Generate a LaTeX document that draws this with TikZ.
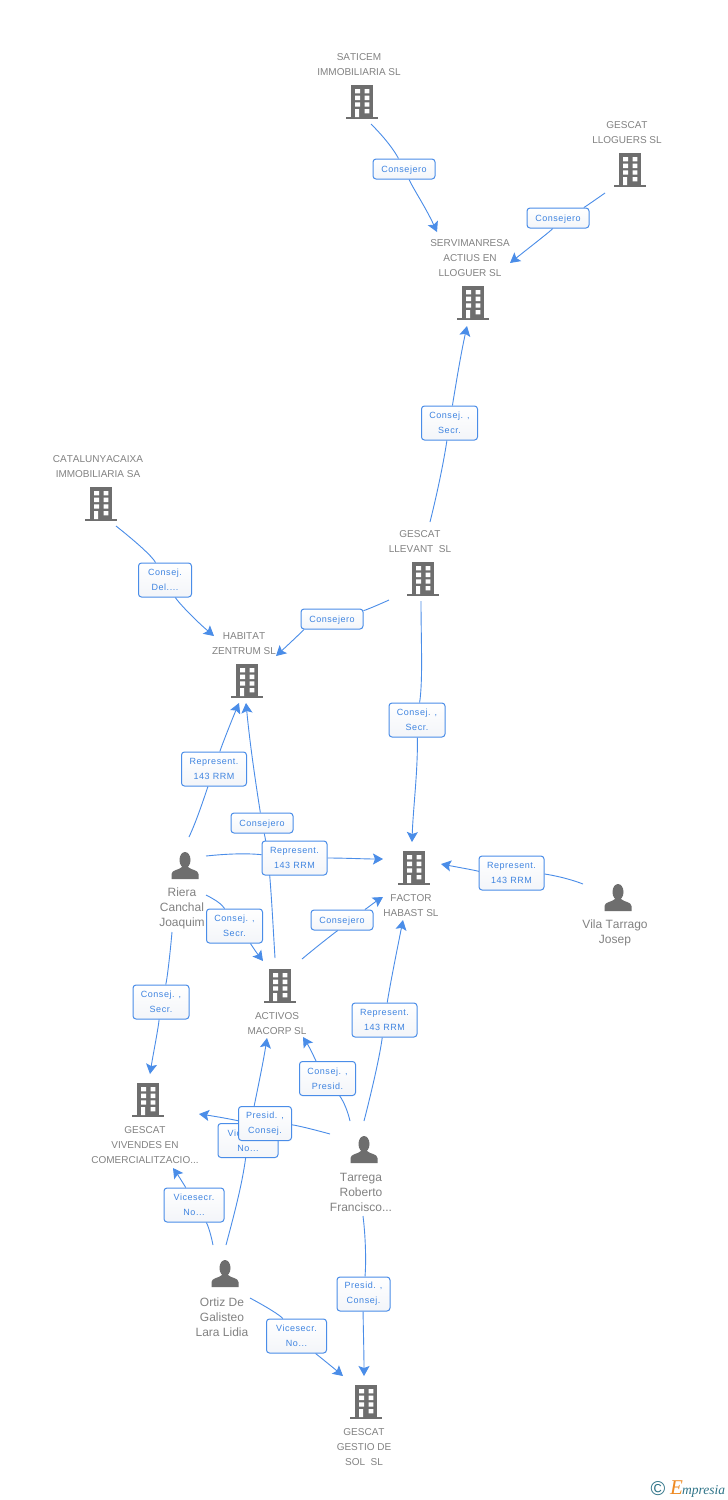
\documentclass[tikz,border=0pt]{standalone}
\usepackage{fontspec}
\setmainfont[Kerning=Off]{Liberation Sans}
\newfontfamily\lblfont[LetterSpace=6]{Liberation Sans}
\newfontfamily\logofont{Liberation Serif}
\usetikzlibrary{arrows.meta,backgrounds}
\definecolor{icongrey}{HTML}{6E6E6E}
\definecolor{textgrey}{HTML}{828282}
\definecolor{linkblue}{HTML}{4A8DE8}
\definecolor{lbltext}{HTML}{3F84E0}
\definecolor{logoteal}{HTML}{2F7488}
\definecolor{logoorange}{HTML}{EE8A22}
\definecolor{lblshade}{HTML}{F3F5F9}
\tikzset{
  building/.style={minimum width=36pt,minimum height=38pt,inner sep=0pt,
    path picture={\begin{scope}[shift={(path picture bounding box.center)}]
      \fill[icongrey] (-11,-17) rectangle (11,15);
      \fill[icongrey] (-16,15) rectangle (16,17);
      \fill[white] (-7,-13) rectangle (-2,-8.7) (2.7,-13) rectangle (7.3,-8.7);
      \fill[white] (-7,-6.3) rectangle (-2,-2) (2.7,-6.3) rectangle (7.3,-2);
      \fill[white] (-7,0.3) rectangle (-2,4.7) (2.7,0.3) rectangle (7.3,4.7);
      \fill[white] (-7,7) rectangle (-3,15) (2.7,7) rectangle (7.3,11.3);
    \end{scope}}},
  person/.style={minimum width=30pt,minimum height=32pt,inner sep=0pt,
    path picture={\begin{scope}[shift={(path picture bounding box.center)}]
      \fill[icongrey] (0,-6) ellipse [x radius=5.5,y radius=8];
      \fill[icongrey] (-13.5,13) -- (-13.5,8) .. controls (-13.5,4) and (-6,4) .. (-3,1) -- (3,1)
        .. controls (6,4) and (13.5,4) .. (13.5,8) -- (13.5,13) -- cycle;
    \end{scope}}},
  cotext/.style={align=center,inner sep=0pt,yshift=-0.8pt,text=textgrey,font=\fontsize{10}{15}\selectfont},
  petext/.style={align=center,inner sep=0pt,yshift=-0.8pt,text=textgrey,font=\fontsize{12}{15}\selectfont},
  lbl/.style={draw=linkblue,line width=1pt,rounded corners=3pt,top color=white,bottom color=lblshade,
    align=center,inner sep=0pt,text=lbltext,font=\lblfont\fontsize{9}{15}\selectfont,
    execute at begin node={\rule{0pt}{8.6pt}}},
  lblone/.style={lbl,minimum width=62pt,minimum height=20pt},
  lblsecr/.style={lbl,minimum width=56pt,minimum height=34pt},
  lblrep/.style={lbl,minimum width=65pt,minimum height=34pt},
  lblvice/.style={lbl,minimum width=60pt,minimum height=34pt},
  lblpres/.style={lbl,minimum width=53pt,minimum height=34pt},
  conn/.style={draw=linkblue,line width=0.9pt},
  arr/.style={conn,-{Stealth[length=10pt,width=11pt,inset=2pt]}}
}
\begin{document}
\begin{tikzpicture}[x=1pt,y=-1pt]
\useasboundingbox (0,0) rectangle (728,1500);
% icons
\node[building] (saticem) at (362,102) {};
\node[building] (lloguers) at (630,170) {};
\node[building] (servi) at (473,303) {};
\node[building] (catal) at (101,504) {};
\node[building] (llevant) at (423,579) {};
\node[building] (habitat) at (247,681) {};
\node[building] (factor) at (414,868) {};
\node[building] (activos) at (280,986) {};
\node[building] (vivendes) at (148,1100) {};
\node[building] (gestio) at (366,1402) {};
\node[person] (vila) at (618,898) {};
\node[person] (riera) at (185,866) {};
\node[person] (tarrega) at (364,1150) {};
\node[person] (ortiz) at (225,1274) {};
% names
\node[cotext] (tsaticem) at (359,63.5) {SATICEM\\IMMOBILIARIA SL};
\node[cotext] (tlloguers) at (627,131.5) {GESCAT\\LLOGUERS SL};
\node[cotext] (tservi) at (470,257) {SERVIMANRESA\\ACTIUS EN\\LLOGUER SL};
\node[cotext] (tcatal) at (98,465.5) {CATALUNYACAIXA\\IMMOBILIARIA SA};
\node[cotext] (tllevant) at (420,540.5) {GESCAT\\LLEVANT\ \ SL};
\node[cotext] (thabitat) at (244,642.5) {HABITAT\\ZENTRUM SL};
\node[cotext] (tfactor) at (411,904.5) {FACTOR\\HABAST SL};
\node[cotext] (tactivos) at (277,1022.5) {ACTIVOS\\MACORP SL};
\node[cotext] (tvivendes) at (145,1144) {GESCAT\\VIVENDES EN\\COMERCIALITZACIO...};
\node[cotext] (tgestio) at (364,1446) {GESCAT\\GESTIO DE\\SOL\ \ SL};
\node[petext] (tvila) at (615,932.5) {Vila Tarrago\\Josep};
\node[petext] (triera) at (182,908) {Riera\\Canchal\\Joaquim};
\node[petext] (ttarrega) at (361,1192) {Tarrega\\Roberto\\Francisco...};
\node[petext] (tortiz) at (222,1316) {Ortiz De\\Galisteo\\Lara Lidia};
% connector labels
\node[lblone] (l1) at (404,169) {Consejero};
\node[lblone] (l2) at (558,218) {Consejero};
\node[lblsecr] (l3) at (449.5,423) {Consej. ,\\Secr.};
\node[lblpres] (l4) at (165,580) {Consej.\\Del....};
\node[lblone] (l5) at (332,619) {Consejero};
\node[lblsecr] (l6) at (417,720) {Consej. ,\\Secr.};
\node[lblrep] (l7) at (214,769) {Represent.\\143 RRM};
\node[lblone] (l8) at (262,823) {Consejero};
\node[lblrep] (l9) at (294.5,858) {Represent.\\143 RRM};
\node[lblrep] (l10) at (511.5,873) {Represent.\\143 RRM};
\node[lblsecr] (l11) at (234.5,926) {Consej. ,\\Secr.};
\node[lblone] (l12) at (342,920) {Consejero};
\node[lblsecr] (l13) at (161,1002) {Consej. ,\\Secr.};
\node[lblrep] (l14) at (384.5,1020) {Represent.\\143 RRM};
\node[lblsecr] (l15) at (327.5,1078.5) {Consej. ,\\Presid.};
\node[lblvice] (l16) at (248,1140.5) {Vicesecr.\\No...};
\node[lblpres] (l17) at (265,1123.5) {Presid. ,\\Consej.};
\node[lblvice] (l18) at (194,1205) {Vicesecr.\\No...};
\node[lblpres] (l19) at (363.5,1294) {Presid. ,\\Consej.};
\node[lblvice] (l20) at (296.5,1336) {Vicesecr.\\No...};
% free ends of connectors
\coordinate (s1) at (371,124);      \coordinate (e1) at (437,232);
\coordinate (s2) at (605,193);      \coordinate (e2) at (510,263);
\coordinate (s3) at (430,522);      \coordinate (e3) at (467,326);
\coordinate (s4) at (116,526);      \coordinate (e4) at (214,636);
\coordinate (s5) at (389,600);      \coordinate (e5) at (276,656);
\coordinate (s6) at (421,601);      \coordinate (e6) at (412,842);
\coordinate (s7) at (189,837);      \coordinate (e7) at (239,703);
\coordinate (s8) at (275,958);      \coordinate (e8) at (246,703);
\coordinate (s9) at (206,856);      \coordinate (e9) at (383,859);
\coordinate (s10) at (583,884);     \coordinate (e10) at (441,864);
\coordinate (s11) at (206,895);     \coordinate (e11) at (263,961);
\coordinate (s12) at (302,959);     \coordinate (e12) at (383,897);
\coordinate (s13) at (172,932);     \coordinate (e13) at (150,1074);
\coordinate (s14) at (364,1121);    \coordinate (e14) at (403,920);
\coordinate (s15) at (350,1121);    \coordinate (e15) at (303,1037);
\coordinate (s16) at (226,1245);    \coordinate (e16) at (267,1038);
\coordinate (s17) at (330,1134);    \coordinate (e17) at (199,1114);
\coordinate (s18) at (213,1245);    \coordinate (e18) at (173,1168);
\coordinate (s19) at (363,1216);    \coordinate (e19) at (364,1376);
\coordinate (s20) at (250,1298);    \coordinate (e20) at (343,1376);
\begin{scope}[on background layer]
\fill[white] (0,0) rectangle (728,1500);
\draw[conn] (s1) .. controls (385,138) and (394,150) .. (l1);
\draw[arr] (l1) .. controls (414,190) and (426,208) .. (e1);
\draw[conn] (s2) .. controls (595,200) and (585,207) .. (l2);
\draw[arr] (l2) .. controls (552,230) and (530,247) .. (e2);
\draw[conn] (s3) .. controls (438,490) and (444,460) .. (l3);
\draw[arr] (l3) .. controls (455,390) and (460,358) .. (e3);
\draw[conn] (s4) .. controls (135,541) and (152,556) .. (l4);
\draw[arr] (l4) .. controls (178,602) and (195,620) .. (e4);
\draw[conn] (s5) .. controls (378,605) and (366,610) .. (l5);
\draw[arr] (l5) .. controls (305,629) and (290,643) .. (e5);
\draw[conn] (s6) .. controls (421,640) and (423,680) .. (l6);
\draw[arr] (l6) .. controls (418,770) and (413,810) .. (e6);
\draw[conn] (s7) .. controls (197,820) and (205,795) .. (l7);
\draw[arr] (l7) .. controls (222,745) and (231,722) .. (e7);
\draw[conn] (s8) .. controls (272,910) and (270,860) .. (l8);
\draw[arr] (l8) .. controls (256,785) and (250,745) .. (e8);
\draw[conn] (s9) .. controls (225,854) and (245,853) .. (l9);
\draw[arr] (l9) .. controls (345,858) and (365,859) .. (e9);
\draw[conn] (s10) .. controls (565,877) and (545,874) .. (l10);
\draw[arr] (l10) .. controls (485,872) and (462,868) .. (e10);
\draw[conn] (s11) .. controls (214,899) and (222,904) .. (l11);
\draw[arr] (l11) .. controls (250,943) and (256,952) .. (e11);
\draw[conn] (s12) .. controls (315,948) and (338,930) .. (l12);
\draw[arr] (l12) .. controls (366,909) and (375,902) .. (e12);
\draw[conn] (s13) .. controls (170,955) and (167,980) .. (l13);
\draw[arr] (l13) .. controls (158,1030) and (153,1055) .. (e13);
\draw[conn] (s14) .. controls (372,1090) and (380,1055) .. (l14);
\draw[arr] (l14) .. controls (390,985) and (397,950) .. (e14);
\draw[conn] (s15) .. controls (348,1112) and (344,1102) .. (l15);
\draw[arr] (l15) .. controls (316,1061) and (310,1048) .. (e15);
\draw[conn] (s16) .. controls (234,1215) and (242,1185) .. (l16);
\draw[arr] (l16) .. controls (254,1105) and (262,1070) .. (e16);
\draw[conn] (s17) .. controls (312,1129) and (295,1125) .. (l17);
\draw[arr] (l17) .. controls (240,1121) and (220,1117) .. (e17);
\draw[conn] (s18) .. controls (211,1235) and (208,1225) .. (l18);
\draw[arr] (l18) .. controls (186,1188) and (180,1178) .. (e18);
\draw[conn] (s19) .. controls (366,1240) and (366,1265) .. (l19);
\draw[arr] (l19) .. controls (363,1320) and (364,1350) .. (e19);
\draw[conn] (s20) .. controls (265,1306) and (280,1315) .. (l20);
\draw[arr] (l20) .. controls (315,1353) and (330,1365) .. (e20);
\end{scope}
% logo
\node[inner sep=0pt,text=logoteal,font=\fontsize{20}{20}\selectfont] (copy) at (658,1489) {©};
\node[inner sep=0pt,anchor=west,font=\logofont\itshape\fontsize{13.5}{14}\selectfont] (logo) at (670,1489)
  {\textcolor{logoorange}{\fontsize{21}{14}\selectfont E}\textcolor{logoteal}{\kern-1pt mpresia}};
\end{tikzpicture}
\end{document}
